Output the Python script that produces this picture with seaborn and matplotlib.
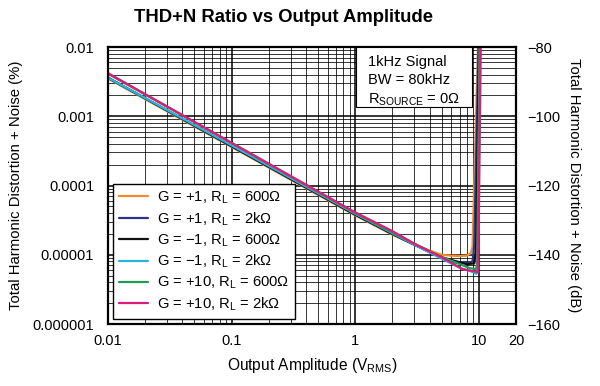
import numpy as np
import pandas as pd
import seaborn as sns
import matplotlib.pyplot as plt
from matplotlib.patches import Rectangle
from matplotlib.ticker import FixedLocator, FixedFormatter, LogLocator, NullFormatter

# THD+N (%) vs output amplitude (Vrms)
labels = ["G = +1, R$_\\mathregular{L}$ = 600Ω",
          "G = +1, R$_\\mathregular{L}$ = 2kΩ",
          "G = −1, R$_\\mathregular{L}$ = 600Ω",
          "G = −1, R$_\\mathregular{L}$ = 2kΩ",
          "G = +10, R$_\\mathregular{L}$ = 600Ω",
          "G = +10, R$_\\mathregular{L}$ = 2kΩ"]
colors = ["#f28c28", "#2e3192", "#111111", "#27b4e3", "#1f9d55", "#e0197d"]

x_g1_600 = [0.01, 0.1, 1, 2, 3, 4, 5, 6, 7, 8, 8.6, 8.9, 9.9]
y_g1_600 = [3.5e-3, 3.6e-4, 3.7e-5, 1.95e-5, 1.4e-5, 1.15e-5, 1.0e-5, 9.7e-6, 9.6e-6, 9.7e-6, 1.05e-5, 1.3e-5, 1.5e-2]

x_g1_2k = [0.01, 0.1, 1, 2, 3, 5, 6.2, 8, 8.9, 9.2, 10.0]
y_g1_2k = [3.6e-3, 3.7e-4, 3.8e-5, 2.0e-5, 1.4e-5, 9.0e-6, 7.8e-6, 7.6e-6, 8.0e-6, 1.4e-5, 1.5e-2]

x_gm1_600 = [0.01, 0.1, 1, 2, 3, 5, 8, 9.2, 9.5, 10.1]
y_gm1_600 = [3.6e-3, 3.7e-4, 3.8e-5, 2.0e-5, 1.4e-5, 9.2e-6, 7.3e-6, 7.5e-6, 1.2e-5, 1.5e-2]

x_gm1_2k = [0.01, 0.1, 1, 2, 3, 5, 7, 9.0, 9.6, 9.8, 10.2]
y_gm1_2k = [3.6e-3, 3.8e-4, 3.9e-5, 2.05e-5, 1.4e-5, 8.8e-6, 6.5e-6, 5.6e-6, 5.3e-6, 6.5e-6, 1.5e-2]

x_g10_600 = [0.01, 0.1, 1, 2, 3, 5, 8.5, 9.5, 9.7, 10.2]
y_g10_600 = [4.1e-3, 4.1e-4, 4.0e-5, 2.1e-5, 1.45e-5, 9.3e-6, 6.4e-6, 6.2e-6, 7.5e-6, 1.5e-2]

x_g10_2k = [0.01, 0.1, 1, 2, 3, 5, 7.4, 9.0, 9.9, 10.4]
y_g10_2k = [4.2e-3, 4.15e-4, 4.1e-5, 2.2e-5, 1.45e-5, 9.2e-6, 6.2e-6, 5.8e-6, 5.6e-6, 1.5e-2]

xs = [x_g1_600, x_g1_2k, x_gm1_600, x_gm1_2k, x_g10_600, x_g10_2k]
ys = [y_g1_600, y_g1_2k, y_gm1_600, y_gm1_2k, y_g10_600, y_g10_2k]

frames = []
for lab, x, y in zip(labels, xs, ys):
    frames.append(pd.DataFrame({"amp": x, "thd": y, "series": lab}))
df = pd.concat(frames, ignore_index=True)

sns.set_style("white")
plt.rcParams['font.family'] = ['Liberation Sans', 'DejaVu Sans']
plt.rcParams['mathtext.default'] = 'regular'
# plain black text like the datasheet
for key in ['text.color', 'axes.labelcolor', 'xtick.color', 'ytick.color']:
    plt.rcParams[key] = 'black'

fig = plt.figure(figsize=(6, 3.86), dpi=100)
ax = fig.add_axes([0.18, 0.1606, 0.68, 0.7176])

sns.lineplot(data=df, x="amp", y="thd", hue="series", hue_order=labels,
             palette=dict(zip(labels, colors)), estimator=None, sort=False,
             linewidth=1.6, ax=ax)

ax.set_xscale("log")
ax.set_yscale("log")
ax.set_xlim(0.01, 20)
ax.set_ylim(1e-6, 1e-2)

ax.xaxis.set_major_locator(FixedLocator([0.01, 0.1, 1, 10, 20]))
ax.xaxis.set_major_formatter(FixedFormatter(["0.01", "0.1", "1", "10", "20"]))
ax.xaxis.set_minor_locator(LogLocator(base=10, subs=np.arange(2, 10), numticks=20))
ax.xaxis.set_minor_formatter(NullFormatter())
ax.yaxis.set_major_locator(FixedLocator([1e-6, 1e-5, 1e-4, 1e-3, 1e-2]))
ax.yaxis.set_major_formatter(FixedFormatter(["0.000001", "0.00001", "0.0001", "0.001", "0.01"]))
ax.yaxis.set_minor_locator(LogLocator(base=10, subs=np.arange(2, 10), numticks=20))
ax.yaxis.set_minor_formatter(NullFormatter())

ax.grid(which="major", color="black", linewidth=1.1)
ax.grid(which="minor", color="black", linewidth=0.55)
ax.set_axisbelow(True)
ax.tick_params(which="both", length=0, labelsize=10.5)
ax.tick_params(axis="y", pad=10)
ax.tick_params(axis="x", pad=7)
for s in ax.spines.values():
    s.set_color("black")
    s.set_linewidth(1.6)

ax.set_xlabel("Output Amplitude (V$_{RMS}$)", fontsize=11.2, labelpad=6)
ax.set_ylabel("Total Harmonic Distortion + Noise (%)", fontsize=10.7, labelpad=7)
fig.text(0.472, 0.955, "THD+N Ratio vs Output Amplitude", fontsize=13.3,
         fontweight="bold", ha="center", va="center")

leg = ax.legend(loc="lower left", bbox_to_anchor=(0.0, 0.0), fontsize=10.6,
                frameon=True, fancybox=False, edgecolor="black", framealpha=1,
                handlelength=2.0, handletextpad=0.6, labelspacing=0.3,
                borderpad=0.4, borderaxespad=0.35)
leg.get_frame().set_linewidth(1.0)

# note box in the upper right
ax.add_patch(Rectangle((0.607, 0.783), 0.285, 0.217, transform=ax.transAxes,
                       facecolor="white", edgecolor="black", linewidth=0.8, zorder=4))
ax.text(0.637, 0.972, "1kHz Signal\nBW = 80kHz\nR$_{SOURCE}$ = 0Ω",
        transform=ax.transAxes, ha="left", va="top", fontsize=10.5, linespacing=1.4,
        zorder=5)

ax2 = ax.twinx()
ax2.set_ylim(-160, -80)
ax2.set_yticks([-160, -140, -120, -100, -80])
ax2.set_yticklabels(["−160", "−140", "−120", "−100", "−80"])
ax2.tick_params(length=0, labelsize=10.5, pad=8)
ax2.set_ylabel("Total Harmonic Distortion + Noise (dB)", fontsize=10.7, rotation=270, labelpad=15)
for s in ax2.spines.values():
    s.set_visible(False)

fig.savefig("out.png", dpi=100)
